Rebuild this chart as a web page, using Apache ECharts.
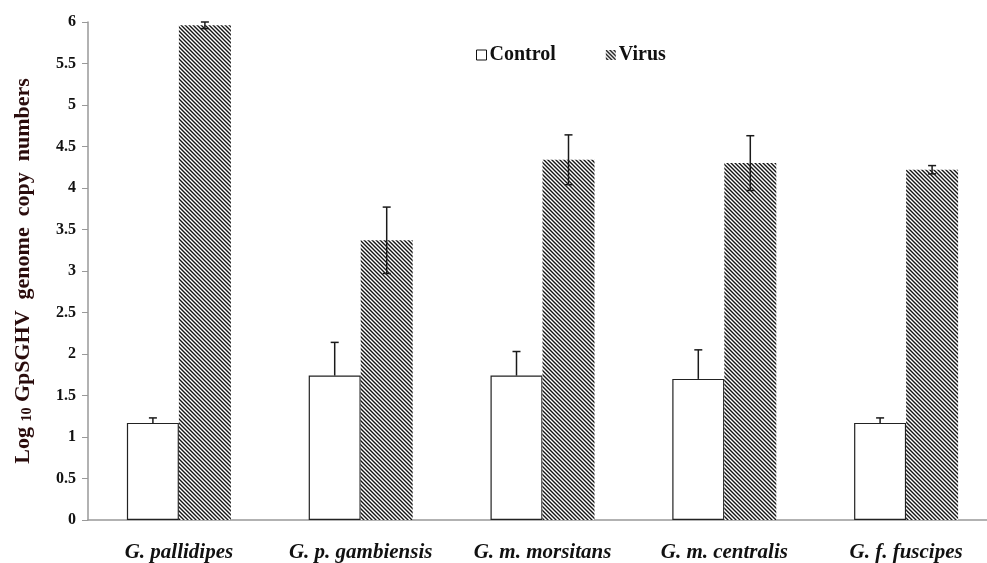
<!DOCTYPE html>
<html>
<head>
<meta charset="utf-8">
<script src="https://cdn.jsdelivr.net/npm/echarts@6/dist/echarts.min.js"></script>
<style>html,body{margin:0;padding:0;background:#fff}#c{width:987px;height:563px}</style>
</head>
<body>
<div id="c"></div>
<script>
var categories = ['G. pallidipes', 'G. p. gambiensis', 'G. m. morsitans', 'G. m. centralis', 'G. f. fuscipes'];
var controlValues = [1.17, 1.74, 1.74, 1.70, 1.17];
var controlErrors = [0.06, 0.40, 0.29, 0.35, 0.06];
var virusValues = [5.96, 3.37, 4.34, 4.30, 4.22];
var virusErrors = [0.04, 0.40, 0.30, 0.33, 0.05];
var yTicks = [0, 0.5, 1, 1.5, 2, 2.5, 3, 3.5, 4, 4.5, 5, 5.5, 6];

function makeHatch() {
  var c = document.createElement('canvas');
  c.width = 4; c.height = 4;
  var ctx = c.getContext('2d');
  var img = ctx.createImageData(4, 4);
  var shades = [20, 140, 255, 140];
  for (var y = 0; y < 4; y++) {
    for (var x = 0; x < 4; x++) {
      var p = ((x - y) % 4 + 4) % 4;
      var v = shades[p];
      var i = (y * 4 + x) * 4;
      img.data[i] = v; img.data[i+1] = v; img.data[i+2] = v; img.data[i+3] = 255;
    }
  }
  ctx.putImageData(img, 0, 0);
  return c;
}
var hatch = makeHatch();
var BW = 52;
var font = '"Liberation Serif", "Times New Roman", serif';

function errSeries(vals, errs, offset, both) {
  return {
    type: 'custom',
    z: 10,
    silent: true,
    data: vals.map(function (v, i) { return [i, v, errs[i]]; }),
    renderItem: function (params, api) {
      var i = api.value(0), v = api.value(1), e = api.value(2);
      var top = api.coord([i, v + e]);
      var bot = api.coord([i, both ? v - e : v]);
      var x = top[0] + offset;
      var st = { stroke: '#1a1a1a', lineWidth: 1.5 };
      var ch = [
        { type: 'line', shape: { x1: x, y1: top[1], x2: x, y2: bot[1] }, style: st },
        { type: 'line', shape: { x1: x - 4, y1: top[1], x2: x + 4, y2: top[1] }, style: st }
      ];
      if (both) ch.push({ type: 'line', shape: { x1: x - 4, y1: bot[1], x2: x + 4, y2: bot[1] }, style: st });
      return { type: 'group', children: ch };
    }
  };
}

var chart = echarts.init(document.getElementById('c'), null, { renderer: 'canvas' });
chart.setOption({
  animation: false,
  backgroundColor: '#fff',
  grid: { left: 88, width: 909, top: 22, bottom: 43, outerBoundsMode: 'none', containLabel: false },
  legend: {
    top: 40, left: 471,
    itemWidth: 10, itemHeight: 10, itemGap: 50,
    icon: 'rect',
    textStyle: { fontFamily: font, fontWeight: 'bold', fontSize: 20, color: '#111', padding: [0, 0, 0, -2] },
    data: [
      { name: 'Control', itemStyle: { color: '#fff', borderColor: '#111', borderWidth: 1 } },
      { name: 'Virus', itemStyle: { color: { image: hatch, repeat: 'repeat' }, borderWidth: 0 } }
    ]
  },
  xAxis: {
    type: 'category',
    data: categories,
    axisLine: { lineStyle: { color: '#999', width: 1.5 } },
    axisTick: { show: false },
    axisLabel: { interval: 0, hideOverlap: false, fontFamily: font, fontWeight: 'bold', fontStyle: 'italic', fontSize: 21, color: '#111', margin: 22 }
  },
  yAxis: {
    type: 'value',
    min: 0, max: 6, interval: 0.5,
    splitLine: { show: false },
    axisLine: { show: true, lineStyle: { color: '#999', width: 1.5 } },
    axisTick: { show: true, length: 6, lineStyle: { color: '#999' } },
    axisLabel: {
      fontFamily: font, fontWeight: 'bold', fontSize: 16, color: '#111', margin: 12,
      formatter: function (v) { return yTicks.indexOf(v) >= 0 ? String(v) : ''; }
    },
    name: '{a|Log }{b|10}{a| GpSGHV  genome  copy  numbers}',
    nameLocation: 'middle',
    nameRotate: 90,
    nameGap: 54,
    nameTextStyle: {
      rich: {
        a: { fontFamily: font, fontWeight: 'bold', fontSize: 22, color: '#2a0c0c' },
        b: { fontFamily: font, fontWeight: 'bold', fontSize: 14, color: '#2a0c0c', verticalAlign: 'bottom', padding: [7, 0, 0, 0] }
      }
    }
  },
  series: [
    {
      name: 'Control', type: 'bar', barWidth: BW, barGap: '0%',
      data: controlValues,
      itemStyle: { color: '#fff', borderColor: '#222', borderWidth: 1.2 }
    },
    {
      name: 'Virus', type: 'bar', barWidth: BW, barGap: '0%',
      data: virusValues,
      itemStyle: { color: { image: hatch, repeat: 'repeat' } }
    },
    errSeries(controlValues, controlErrors, -BW / 2, false),
    errSeries(virusValues, virusErrors, BW / 2, true)
  ]
});
</script>
</body>
</html>
